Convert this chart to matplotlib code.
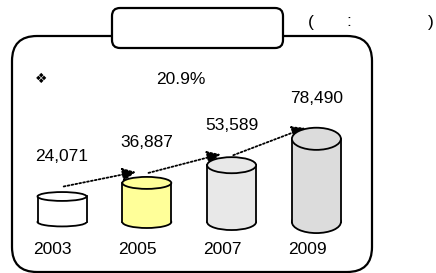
import matplotlib.pyplot as plt
from matplotlib.patches import FancyBboxPatch, Ellipse

plt.rcParams['font.family'] = ['Liberation Sans', 'DejaVu Sans']

years = ['2003', '2005', '2007', '2009']
values = [24071, 36887, 53589, 78490]
value_labels = ['24,071', '36,887', '53,589', '78,490']
colors = ['#ffffff', '#ffff99', '#e8e8e8', '#dcdcdc']
growth = '20.9%'

W, H = 436, 273
fig = plt.figure(figsize=(W / 100, H / 100), dpi=100)

# frame layer in pixel coordinates
ax = fig.add_axes([0, 0, 1, 1])
ax.set_xlim(0, W)
ax.set_ylim(H, 0)
ax.axis('off')

outer = FancyBboxPatch((37, 61), 310, 186, boxstyle='round,pad=25',
                       fc='white', ec='black', lw=1.6)
ax.add_patch(outer)
title = FancyBboxPatch((120, 16), 155, 24, boxstyle='round,pad=8',
                       fc='white', ec='black', lw=1.6, zorder=3)
ax.add_patch(title)
ax.text(311, 22, '(', fontsize=12.5, ha='center', va='center')
ax.text(349, 22, ':', fontsize=12.5, ha='center', va='center')
ax.text(431, 22, ')', fontsize=12.5, ha='center', va='center')
ax.text(41, 79, '\u2756', fontsize=10, ha='center', va='center',
        family='DejaVu Sans')
ax.text(181, 80, growth, fontsize=12.5, ha='center', va='center')

# cylinder layer in value units
px = 0.00106          # pixels per value unit
base = 222            # pixel row of value 0
step = 84.8           # pixels between categories
x0 = 62
ax2 = fig.add_axes([0, 0, 1, 1], facecolor='none')
ax2.set_xlim(-x0 / step, (W - x0) / step)
ax2.set_ylim(-(H - base) / px, base / px)
ax2.axis('off')

w = 49 / step
for i, (v, c) in enumerate(zip(values, colors)):
    ry = (1.5 + 0.000122 * v) / px
    ax2.add_patch(Ellipse((i, 0), w, 2 * ry, fc=c, ec='black', lw=1.3, zorder=1))
    ax2.bar(i, v, width=w, color=c, zorder=2)
    ax2.plot([i - w / 2, i - w / 2], [0, v], color='black', lw=1.3, zorder=3)
    ax2.plot([i + w / 2, i + w / 2], [0, v], color='black', lw=1.3, zorder=3)
    ax2.add_patch(Ellipse((i, v), w, 2 * ry, fc=c, ec='black', lw=1.3, zorder=4))
    ax2.text(i, v + 40 / px, value_labels[i], fontsize=12.5,
             ha='center', va='center')
    ax2.text(i - 0.11, -28 / px, years[i], fontsize=12.5,
             ha='center', va='center')

for i in range(len(values) - 1):
    ax2.annotate('', xy=(i + 1 - 0.13, values[i + 1] + 11 / px),
                 xytext=(i + 0.02, values[i] + 10 / px),
                 arrowprops=dict(arrowstyle='-|>,head_length=0.8,head_width=0.4',
                                 ls=(0, (1, 1.2)), lw=1.3, color='black',
                                 shrinkA=0, shrinkB=0))

fig.savefig('out.png', dpi=100)
